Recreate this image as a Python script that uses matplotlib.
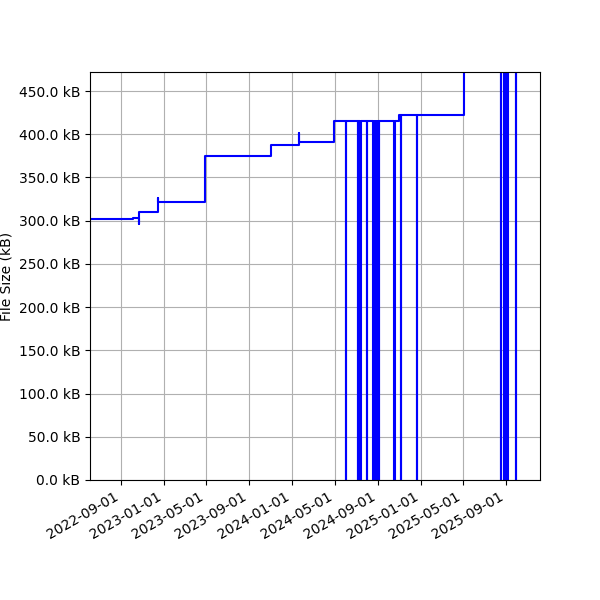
import matplotlib
matplotlib.use("Agg")
import matplotlib.pyplot as plt
import matplotlib.dates as mdates
import matplotlib.ticker as mticker
import pandas as pd

# --- Data (file size history, kB) --------------------------------
dates = [
    "2022-05-01", "2022-10-05", "2022-10-23", "2022-10-24", "2022-12-15",
    "2022-12-16", "2023-04-29", "2023-11-02", "2024-01-20", "2024-01-21",
    "2024-04-30",
    "2024-06-03", "2024-06-04", "2024-07-07", "2024-07-08", "2024-07-13",
    "2024-07-14", "2024-07-31", "2024-08-01",
    "2024-08-19", "2024-08-20", "2024-08-22", "2024-08-23", "2024-08-25",
    "2024-08-26", "2024-08-28", "2024-08-29", "2024-08-31", "2024-09-01",
    "2024-09-03", "2024-09-04",
    "2024-10-18", "2024-10-19", "2024-10-30", "2024-11-06", "2024-11-07",
    "2024-12-21", "2024-12-22",
    "2025-05-03",
    "2025-08-17", "2025-08-18", "2025-08-27", "2025-08-28", "2025-08-31",
    "2025-09-01", "2025-09-04", "2025-09-05", "2025-09-29", "2025-09-30",
    "2026-01-01",
]
sizes_kb = [
    302.4, 303.6, 296.0, 309.8, 326.0,
    322.0, 375.0, 388.0, 401.0, 390.8,
    415.0,
    0.0, 415.0, 0.0, 415.0, 0.0,
    415.0, 0.0, 415.0,
    0.0, 415.0, 0.0, 415.0, 0.0,
    415.0, 0.0, 415.0, 0.0, 415.0,
    0.0, 415.0,
    0.0, 415.0, 422.4, 0.0, 422.4,
    0.0, 422.4,
    495.0,
    0.0, 495.0, 0.0, 495.0, 0.0,
    495.0, 0.0, 495.0, 0.0, 495.0,
    495.0,
]

x_start, x_end = "2022-06-06", "2025-12-06"
y_top = 472.0

# -----------------------------------------------------------------

fig, ax = plt.subplots(figsize=(6, 6), dpi=100)
fig.subplots_adjust(left=0.15, right=0.9, top=0.88, bottom=0.2)

ax.plot(pd.to_datetime(dates), sizes_kb, color="blue", linewidth=1.5,
        drawstyle="steps-post")

ax.set_xlim(pd.Timestamp(x_start), pd.Timestamp(x_end))
ax.set_ylim(0, y_top)
ax.set_ylabel("File Size (kB)")
ax.yaxis.set_major_formatter(mticker.FuncFormatter(lambda v, _: f"{v:.1f} kB"))
ax.yaxis.set_major_locator(mticker.MultipleLocator(50))

ax.xaxis.set_major_locator(mdates.MonthLocator(bymonth=[1, 5, 9]))
ax.xaxis.set_major_formatter(mdates.DateFormatter("%Y-%m-%d"))
ax.grid(True)

for lbl in ax.get_xticklabels():
    lbl.set_rotation(30)
    lbl.set_ha("right")

fig.savefig("out.png")
